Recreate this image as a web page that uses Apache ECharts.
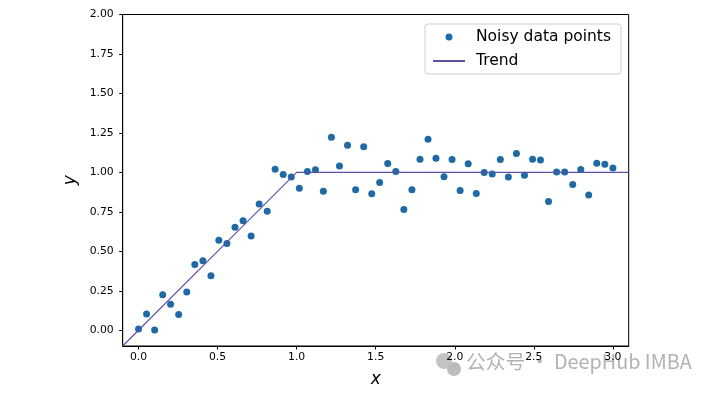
<!DOCTYPE html>
<html>
<head>
<meta charset="utf-8">
<script src="https://cdn.jsdelivr.net/npm/echarts@6/dist/echarts.min.js"></script>
<style>html,body{margin:0;padding:0;background:#fff}#c{width:720px;height:393px}</style>
</head>
<body>
<div id="c"></div>
<script>
// x positions of the noisy points
var xValues = [0, 0.051, 0.102, 0.153, 0.203, 0.254, 0.305, 0.356, 0.407, 0.458,
  0.508, 0.559, 0.610, 0.661, 0.712, 0.763, 0.814, 0.864, 0.915, 0.966,
  1.017, 1.068, 1.119, 1.169, 1.220, 1.271, 1.322, 1.373, 1.424, 1.475,
  1.525, 1.576, 1.627, 1.678, 1.729, 1.780, 1.831, 1.881, 1.932, 1.983,
  2.034, 2.085, 2.136, 2.186, 2.237, 2.288, 2.339, 2.390, 2.441, 2.492,
  2.542, 2.593, 2.644, 2.695, 2.746, 2.797, 2.847, 2.898, 2.949, 3.0];
// y values of the noisy points
var yValues = [0.008, 0.103, 0.002, 0.225, 0.164, 0.099, 0.242, 0.416, 0.440, 0.345,
  0.570, 0.549, 0.652, 0.694, 0.597, 0.799, 0.753, 1.020, 0.986, 0.970,
  0.900, 1.005, 1.016, 0.881, 1.222, 1.041, 1.172, 0.890, 1.163, 0.864,
  0.936, 1.056, 1.005, 0.765, 0.890, 1.083, 1.209, 1.090, 0.972, 1.081,
  0.885, 1.054, 0.866, 0.999, 0.989, 1.081, 0.970, 1.119, 0.982, 1.083,
  1.079, 0.816, 1.003, 1.003, 0.923, 1.018, 0.856, 1.058, 1.052, 1.028];
// trend line
var trendX = [-0.1, 1.0, 3.1];
var trendY = [-0.1, 1.0, 1.0];
// tick labels
var xTicks = [0, 0.5, 1.0, 1.5, 2.0, 2.5, 3.0];
var yTicks = [0, 0.25, 0.5, 0.75, 1.0, 1.25, 1.5, 1.75, 2.0];
var seriesNames = ['Noisy data points', 'Trend'];

var pts = xValues.map(function (x, i) { return [x, yValues[i]]; });
var trend = trendX.map(function (x, i) { return [x, trendY[i]]; });

var FONT = 'DejaVu Sans';
var chart = echarts.init(document.getElementById('c'), null, {renderer: 'canvas'});
chart.setOption({
  animation: false,
  backgroundColor: '#ffffff',
  grid: {left: 122.7, right: 91.3, top: 14.5, bottom: 45.7, show: true,
         borderColor: '#000', borderWidth: 1, backgroundColor: 'transparent'},
  xAxis: {
    type: 'value', min: -0.1, max: 3.1,
    name: 'x', nameLocation: 'middle', nameGap: 25,
    nameTextStyle: {fontFamily: FONT, fontStyle: 'italic', fontSize: 17, color: '#000'},
    axisLine: {show: true, onZero: false, lineStyle: {color: '#000', width: 1}},
    axisTick: {show: true, length: 3.5, customValues: xTicks, lineStyle: {color: '#000'}},
    axisLabel: {customValues: xTicks, margin: 6, fontFamily: FONT, fontSize: 10.8, color: '#000',
      formatter: function (v) { return v.toFixed(1); }},
    splitLine: {show: false}
  },
  yAxis: {
    type: 'value', min: -0.1, max: 2.0,
    name: 'y', nameLocation: 'middle', nameGap: 38,
    nameTextStyle: {fontFamily: FONT, fontStyle: 'italic', fontSize: 17, color: '#000'},
    axisLine: {show: true, onZero: false, lineStyle: {color: '#000', width: 1}},
    axisTick: {show: true, length: 3.5, customValues: yTicks, lineStyle: {color: '#000'}},
    axisLabel: {customValues: yTicks, margin: 9, fontFamily: FONT, fontSize: 10.8, color: '#000',
      formatter: function (v) { return v.toFixed(2); }},
    splitLine: {show: false}
  },
  legend: {
    orient: 'vertical', left: 425, top: 24,
    padding: [5, 10, 5, 7], itemGap: 8,
    itemWidth: 32, itemHeight: 7,
    borderColor: '#d0d0d0', borderWidth: 1, borderRadius: 3,
    backgroundColor: 'rgba(255,255,255,0.8)',
    textStyle: {fontFamily: FONT, fontSize: 15.5, color: '#000', padding: [0, 0, 0, 6]},
    data: [{name: seriesNames[0], icon: 'circle'},
           {name: seriesNames[1], itemStyle: {opacity: 0}}]
  },
  series: [
    {name: seriesNames[0], type: 'scatter', data: pts, symbolSize: 7,
     itemStyle: {color: '#1f6aa5', opacity: 1}, z: 2},
    {name: seriesNames[1], type: 'line', data: trend, symbol: 'none',
     lineStyle: {color: '#5b50a8', width: 1.1}, z: 3}
  ],
  graphic: [
    {type: 'circle', shape: {cx: 444, cy: 361, r: 8}, style: {fill: '#c4c4c4'}, z: -10},
    {type: 'circle', shape: {cx: 454, cy: 369, r: 7}, style: {fill: '#bcbcbc'}, z: -10},
    {type: 'text', left: 466, top: 352, z: -10,
     style: {text: '公众号 · DeepHub IMBA', fill: '#b2b2b2',
       font: '19.8px "Noto Sans CJK SC", "Noto Sans", sans-serif'}}
  ]
});
</script>
</body>
</html>
